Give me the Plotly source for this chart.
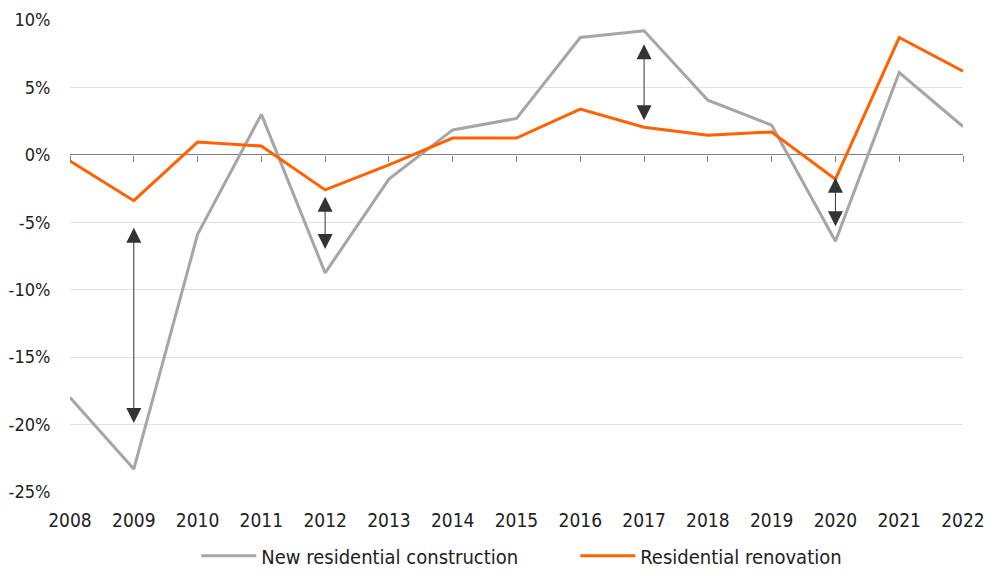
import plotly.graph_objects as go

years = list(range(2008, 2023))
new_residential = [-18.0, -23.3, -5.9, 3.0, -8.75, -1.8, 1.85, 2.7, 8.7, 9.2, 4.05, 2.2, -6.4, 6.1, 2.1]
renovation = [-0.45, -3.4, 0.95, 0.65, -2.6, -0.75, 1.25, 1.25, 3.4, 2.05, 1.45, 1.7, -1.8, 8.7, 6.2]

# gap arrows (x, top tip, bottom tip)
arrow_x = [2009, 2012, 2017, 2020]
arrow_top = [-5.4, -3.1, 8.2, -1.7]
arrow_bottom = [-20.0, -7.1, 2.45, -5.4]

y_ticks = [10, 5, 0, -5, -10, -15, -20, -25]
y_labels = ["10%", "5%", "0%", "-5%", "-10%", "-15%", "-20%", "-25%"]

FONT = "DejaVu Sans Condensed, Liberation Sans Narrow, sans-serif"
TXT = "#222222"

fig = go.Figure()
fig.add_trace(go.Scatter(x=years, y=new_residential, mode="lines",
                         name="New residential construction",
                         line=dict(color="#a6a6a6", width=3)))
fig.add_trace(go.Scatter(x=years, y=renovation, mode="lines",
                         name="Residential renovation",
                         line=dict(color="#ff6200", width=3)))

# invisible trace to drive the tick axis on the zero line
fig.add_trace(go.Scatter(x=years, y=[0] * len(years), mode="lines", xaxis="x2",
                         line=dict(width=0), showlegend=False, hoverinfo="skip"))

for xa, yt, yb in zip(arrow_x, arrow_top, arrow_bottom):
    fig.add_annotation(x=xa, y=yt, ax=xa, ay=yb, xref="x", yref="y",
                       axref="x", ayref="y", text="", showarrow=True,
                       arrowside="end+start",
                       arrowhead=2, arrowsize=3, arrowwidth=1,
                       startarrowhead=2, startarrowsize=3,
                       arrowcolor="#333333")

fig.update_xaxes(range=[2008, 2022], tickvals=years, showgrid=False,
                 zeroline=False, showline=False, automargin=False,
                 ticks="outside", ticklen=11, tickcolor="rgba(0,0,0,0)",
                 tickfont=dict(family=FONT, size=19, color=TXT))
fig.update_yaxes(range=[-25, 10], tickvals=y_ticks, ticktext=y_labels,
                 showgrid=True, gridcolor="#e0e0e0", gridwidth=1,
                 zeroline=True, zerolinecolor="#7f7f7f", zerolinewidth=1,
                 showline=False, automargin=False,
                 ticks="outside", ticklen=15, tickcolor="rgba(0,0,0,0)",
                 tickfont=dict(family=FONT, size=18, color=TXT))

# page body adds an 8px offset, so the figure is drawn a little smaller
fig.update_layout(
    width=1000, height=572,
    template="plotly_white",
    plot_bgcolor="white", paper_bgcolor="white",
    margin=dict(l=62, r=45, t=12, b=88, autoexpand=False),
    xaxis2=dict(range=[2008, 2022], tickvals=years, overlaying="x",
                anchor="free", position=25 / 35, showticklabels=False,
                ticks="outside", ticklen=6, tickcolor="#7f7f7f",
                showgrid=False, zeroline=False, showline=False),
    legend=dict(orientation="h", x=0.1414, xanchor="left", y=-0.135,
                yanchor="middle", font=dict(family=FONT, size=20, color=TXT),
                itemwidth=55, entrywidth=309, entrywidthmode="pixels"),
    showlegend=True,
)

fig.write_html("out.html")
